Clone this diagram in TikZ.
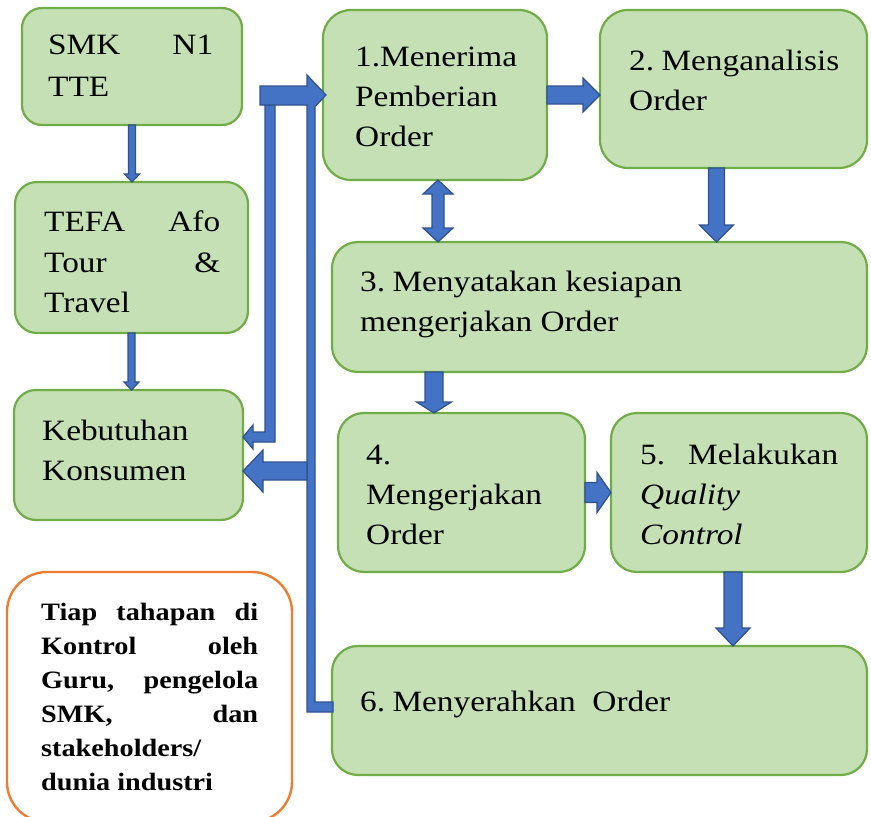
\documentclass[tikz,border=0pt]{standalone}
\usepackage{fontspec}
\setmainfont{Liberation Serif}[FakeStretch=1.13]
\usetikzlibrary{calc}
\definecolor{gfill}{HTML}{C5E0B4}
\definecolor{gline}{HTML}{70AD47}
\definecolor{bfill}{HTML}{4472C4}
\definecolor{bline}{HTML}{2F528F}
\definecolor{oline}{HTML}{ED7D31}

% block arrow: start, tip, shaft half-width, head half-width, head length
\newcommand{\blockarrow}[5]{%
  \coordinate (ba-s) at (#1);
  \coordinate (ba-t) at (#2);
  \coordinate (ba-b) at ($(ba-t)!#5!(ba-s)$);
  \draw[blk] ($(ba-s)!#3!90:(ba-t)$) -- ($(ba-b)!#3!90:(ba-t)$)
    -- ($(ba-b)!#4!90:(ba-t)$) -- (ba-t) -- ($(ba-b)!#4!-90:(ba-t)$)
    -- ($(ba-b)!#3!-90:(ba-t)$) -- ($(ba-s)!#3!-90:(ba-t)$) -- cycle;}
\newcommand{\spread}[2]{\hbox to #1{#2}}

\begin{document}
\begin{tikzpicture}[x=1pt,y=-1pt,
  gbox/.style={draw=gline, fill=gfill, line width=2.2pt, rounded corners=#1,
    anchor=north west, inner sep=0pt, outer sep=0pt},
  gbox/.default=22pt,
  notebox/.style={draw=oline, fill=white, line width=2.4pt, rounded corners=40pt,
    anchor=north west, inner sep=0pt, outer sep=0pt},
  blk/.style={draw=bline, fill=bfill, line width=1.2pt, line join=miter},
  txt/.style={anchor=base west, inner sep=0pt, font=\fontsize{29.5}{36}\selectfont},
  ntxt/.style={anchor=base west, inner sep=0pt, font=\fontsize{25}{30}\selectfont\bfseries}]
\useasboundingbox (0,0) rectangle (871,817);

% boxes
\node[gbox=20pt, minimum width=220pt, minimum height=117pt] (smk) at (22,8) {};
\node[gbox, minimum width=233pt, minimum height=151pt] (tefa) at (15,182) {};
\node[gbox, minimum width=229pt, minimum height=130pt] (keb) at (14,390) {};
\node[gbox=28pt, minimum width=224pt, minimum height=170pt] (b1) at (323,10) {};
\node[gbox=28pt, minimum width=267pt, minimum height=158pt] (b2) at (600,10) {};
\node[gbox=26pt, minimum width=535pt, minimum height=130pt] (b3) at (332,242) {};
\node[gbox=26pt, minimum width=247pt, minimum height=159pt] (b4) at (338,413) {};
\node[gbox=26pt, minimum width=256pt, minimum height=159pt] (b5) at (611,413) {};
\node[gbox=26pt, minimum width=535pt, minimum height=129pt] (b6) at (332,646) {};
\node[notebox, minimum width=285pt, minimum height=250pt] (note) at (7,572) {};

% texts
\node[txt] (t-smk1) at (48,54) {\spread{165pt}{SMK\hfill N1}};
\node[txt] (t-smk2) at (48,96) {TTE};
\node[txt] (t-tefa1) at (44,231) {\spread{176pt}{TEFA\hfill Afo}};
\node[txt] (t-tefa2) at (44,272) {\spread{176pt}{Tour\hfill \&}};
\node[txt] (t-tefa3) at (44,312) {Travel};
\node[txt] (t-keb1) at (42,440) {Kebutuhan};
\node[txt] (t-keb2) at (42,480) {Konsumen};
\node[txt] (t-b1a) at (355,66) {1.Menerima};
\node[txt] (t-b1b) at (355,106) {Pemberian};
\node[txt] (t-b1c) at (355,146) {Order};
\node[txt] (t-b2a) at (629,70) {2.\kern-1pt\ Menganalisis};
\node[txt] (t-b2b) at (629,110) {Order};
\node[txt] (t-b3a) at (360,291) {3.\kern-1pt\ Menyatakan kesiapan};
\node[txt] (t-b3b) at (360,331) {mengerjakan Order};
\node[txt] (t-b4a) at (366,464) {4.};
\node[txt] (t-b4b) at (366,504) {Mengerjakan};
\node[txt] (t-b4c) at (366,544) {Order};
\node[txt] (t-b5a) at (640,464) {\spread{198pt}{5.\hfill Melakukan}};
\node[txt] (t-b5b) at (640,504) {\itshape Quality};
\node[txt] (t-b5c) at (640,544) {\itshape Control};
\node[txt] (t-b6) at (360,711) {6.\kern-1pt\ Menyerahkan\ \ Order};

\node[ntxt] (n1) at (41,620) {\spread{217pt}{Tiap\hfill tahapan\hfill di}};
\node[ntxt] (n2) at (41,654) {\spread{217pt}{Kontrol\hfill oleh}};
\node[ntxt] (n3) at (41,688) {\spread{217pt}{Guru,\hfill pengelola}};
\node[ntxt] (n4) at (41,722) {\spread{217pt}{SMK,\hfill dan}};
\node[ntxt] (n5) at (41,756) {stakeholders/};
\node[ntxt] (n6) at (41,790) {dunia industri};

% simple flow arrows
\blockarrow{smk.south}{smk.south |- tefa.north}{3.5pt}{7.5pt}{8pt}
\blockarrow{tefa.south}{tefa.south |- keb.north}{3.5pt}{7.5pt}{8pt}
\blockarrow{b1.east}{b2.west |- b1.east}{9pt}{17pt}{17pt}
\coordinate (a23) at ($(b2.south)+(-17,0)$);
\blockarrow{a23}{a23 |- b3.north}{8pt}{17pt}{17pt}
\coordinate (a34) at ($(b4.north)+(-27.5,0)$);
\blockarrow{a34 |- b3.south}{a34}{9pt}{17.5pt}{11pt}
\blockarrow{b4.east}{b5.west |- b4.east}{10pt}{20pt}{14pt}
\coordinate (a56) at ($(b5.south)+(-6,0)$);
\blockarrow{a56}{a56 |- b6.north}{9pt}{17pt}{18pt}

% two-way arrow between steps 1 and 3
\coordinate (d1) at ($(b1.south)+(3,0)$);
\coordinate (d2) at (d1 |- b3.north);
\draw[blk] (d1) -- ($(d1)+(15,14)$) -- ($(d1)+(6,14)$) -- ($(d2)+(6,-14)$)
  -- ($(d2)+(15,-14)$) -- (d2) -- ($(d2)+(-15,-14)$) -- ($(d2)+(-6,-14)$)
  -- ($(d1)+(-6,14)$) -- ($(d1)+(-15,14)$) -- cycle;

% branch down to the customer needs (thin bar)
\draw[blk] (265,105) -- (265,432) -- (253,432) -- (253,425)
  -- ($(keb.east)+(0,-18)$) -- (253,449) -- (253,442) -- (275,442) -- (275,105) -- cycle;

% return line from step 6 up into step 1
\draw[blk] ($(b6.west)+(1,1.5)$) -- (307,712) -- (307,105) -- (260,105) -- (260,86)
  -- (307,86) -- (307,75) -- ($(b1.west)+(3,0)$) -- (315,106.6) -- (315,702)
  -- ($(b6.west)+(1,-8.5)$) -- cycle;

% wide arrow into the customer needs
\draw[blk] (307,462) -- (263,462) -- (263,450) -- ($(keb.east)+(0,16)$)
  -- (263,492) -- (263,480) -- (307,480) -- cycle;
\end{tikzpicture}
\end{document}
